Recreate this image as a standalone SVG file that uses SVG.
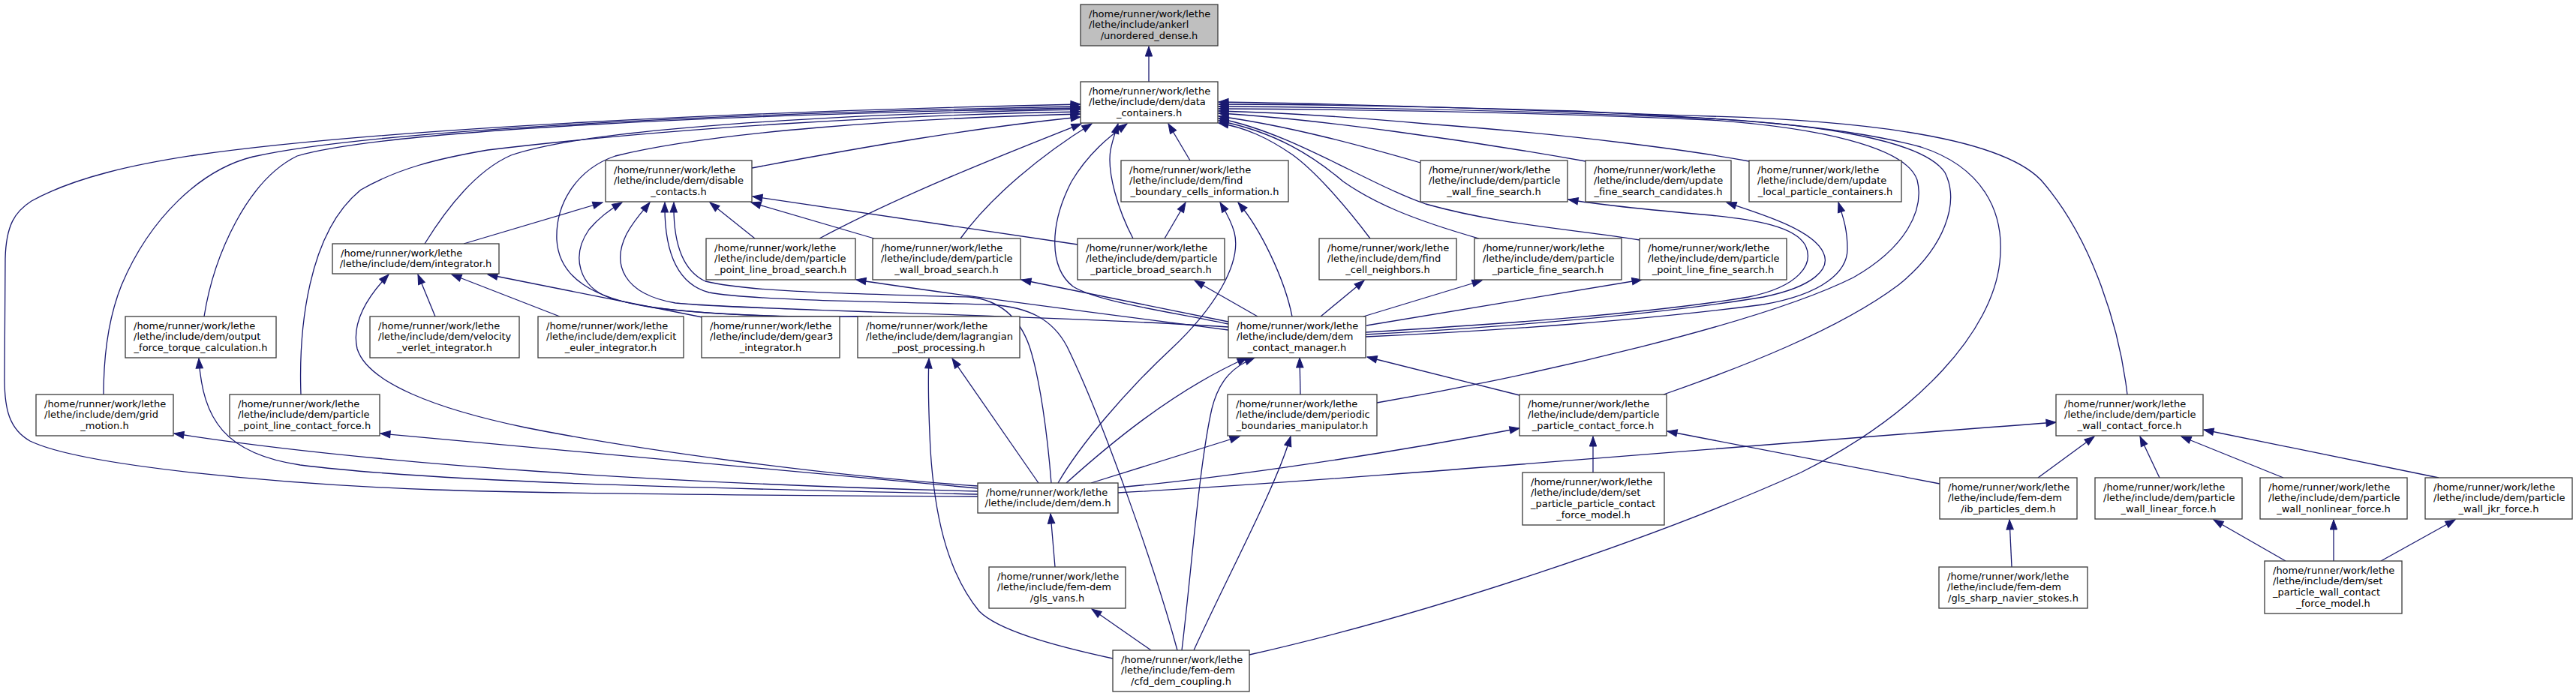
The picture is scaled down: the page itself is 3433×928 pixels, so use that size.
<svg xmlns="http://www.w3.org/2000/svg" width="3433" height="928" viewBox="0 0 3433 928">
<style>
.nd rect{fill:#fff;stroke:#3a3a3a;stroke-width:1.3}
.nd text{font-family:"DejaVu Sans","Liberation Sans",sans-serif;font-size:13px;fill:#000}
.nd .c{text-anchor:middle}
#n0 rect{fill:#bfbfbf}
.e path{fill:none;stroke:#191970;stroke-width:1.3;marker-end:url(#ah)}
</style>
<defs>
<marker id="ah" markerUnits="userSpaceOnUse" markerWidth="14" markerHeight="10" refX="13" refY="4.7" orient="auto" overflow="visible"><path d="M0,0 L13,4.7 L0,9.4 z" fill="#191970" stroke="#191970" stroke-width="1"/></marker>
</defs>
<rect width="3433" height="928" fill="#fff"/>
<g id="edges" class="e">
<path d="M1531,109 L1531,62"/>
<path d="M1303,662 C1100,661 760,659 580,653 C380,646 110,622 40,588 C12,572 6,545 6,505 L7,345 C8,300 20,282 42,268 C100,236 180,219 259,207 C500,172 1000,148 1440,139"/>
<path d="M138,526 C138,470 146,420 162,380 C200,290 268,226 337,209 C500,172 1000,150 1440,142"/>
<path d="M272,422 C285,340 330,240 396,208 C520,172 1000,152 1440,144"/>
<path d="M566,325 C600,270 640,225 681,207 C800,166 1200,150 1440,146"/>
<path d="M401,526 C398,440 410,310 481,253 C530,225 580,212 650,200 C900,170 1200,153 1440,149"/>
<path d="M1150,422 C1050,423 950,420 870,410 C790,398 745,370 742,320 C740,270 770,225 820,208 C950,176 1200,158 1440,152"/>
<path d="M1002,224 C1150,196 1300,170 1440,156"/>
<path d="M1092,318 C1200,260 1340,205 1441,165"/>
<path d="M1280,318 C1320,262 1390,205 1455,165"/>
<path d="M1510,318 C1490,280 1475,230 1480,200 C1483,185 1487,175 1490,165"/>
<path d="M1637,432 C1550,414 1462,402 1430,382 C1398,357 1398,300 1428,242 C1450,205 1478,182 1502,165"/>
<path d="M1586,214 L1557,165"/>
<path d="M1826,318 C1790,270 1750,226 1722,206 C1690,184 1660,170 1624,164"/>
<path d="M1971,318 C1880,292 1830,270 1790,242 C1750,208 1700,176 1624,161"/>
<path d="M2185,320 C2100,306 2000,300 1900,272 C1820,244 1720,176 1624,158"/>
<path d="M1893,217 C1820,196 1720,168 1624,155"/>
<path d="M2113,215 C1950,186 1750,158 1624,151"/>
<path d="M2331,215 C2250,200 2100,180 1900,165 C1800,156 1700,150 1624,148"/>
<path d="M1835,537 C2050,500 2350,430 2470,370 C2540,330 2565,280 2555,240 C2540,195 2420,170 2280,160 C2050,150 1800,146 1624,145"/>
<path d="M2217,526 C2320,490 2450,440 2530,380 C2592,330 2612,270 2592,230 C2562,186 2420,166 2280,158 C2050,148 1800,143 1624,142"/>
<path d="M1665,873 C1900,820 2200,720 2400,630 C2560,550 2655,440 2665,350 C2673,280 2640,222 2560,196 C2450,166 2300,158 2100,148 C1900,142 1750,139 1624,139"/>
<path d="M2835,526 C2825,440 2790,320 2720,240 C2660,178 2450,160 2280,155 C2000,146 1800,138 1624,136"/>
<path d="M1820,449 C2000,441 2200,426 2350,406 C2430,392 2462,362 2462,332 C2462,305 2456,289 2450,270"/>
<path d="M1820,446 C2000,436 2200,421 2350,396 C2418,382 2440,358 2430,337 C2417,307 2350,286 2301,270"/>
<path d="M1820,443 C2000,432 2200,418 2330,396 C2398,382 2418,352 2406,327 C2392,302 2340,293 2280,287 C2200,280 2130,273 2090,266"/>
<path d="M1821,434 L2188,373"/>
<path d="M1817,422 L1975,374"/>
<path d="M1760,422 L1818,374"/>
<path d="M1722,422 C1712,372 1680,305 1650,270"/>
<path d="M1676,422 L1592,374"/>
<path d="M1637,429 L1361,373"/>
<path d="M1637,440 C1450,416 1250,390 1141,373"/>
<path d="M1637,436 C1400,420 1000,414 900,404 C830,392 815,352 835,312 C846,292 858,280 866,270"/>
<path d="M618,325 L803,270"/>
<path d="M1006,318 L946,270"/>
<path d="M1165,318 L1001,270"/>
<path d="M1436,326 L1003,262"/>
<path d="M1162,422 C1000,424 870,416 812,397 C772,382 760,342 785,306 C800,288 815,278 829,270"/>
<path d="M1401,644 C1396,580 1386,505 1372,462 C1358,422 1332,400 1292,396 C1150,392 1000,390 940,375 C908,360 897,320 898,270"/>
<path d="M1569,867 C1540,760 1470,560 1422,462 C1403,426 1372,410 1322,406 C1150,402 1000,400 945,390 C900,378 885,330 886,270"/>
<path d="M580,422 L557,366"/>
<path d="M746,422 L602,366"/>
<path d="M936,423 L650,366"/>
<path d="M1303,648 C1100,634 850,600 700,570 C580,545 490,510 476,465 C468,430 490,395 518,366"/>
<path d="M1303,655 C900,645 500,620 232,578"/>
<path d="M1303,651 C1000,625 700,595 507,578"/>
<path d="M1303,659 C1000,652 600,645 400,620 C300,605 270,560 265,478"/>
<path d="M1384,644 L1269,478"/>
<path d="M1410,644 C1440,592 1500,522 1560,466 C1620,410 1655,350 1645,310 C1640,292 1632,280 1626,270"/>
<path d="M1421,644 C1470,600 1560,522 1662,477"/>
<path d="M1454,644 L1652,582"/>
<path d="M1490,650 C1600,640 1800,614 2025,571"/>
<path d="M1490,657 C1800,640 2300,596 2740,563"/>
<path d="M1534,867 L1455,812"/>
<path d="M1483,878 C1400,860 1330,840 1305,815 C1260,760 1245,680 1240,600 C1237,540 1237,500 1238,478"/>
<path d="M1575,867 C1588,760 1598,620 1615,545 C1625,505 1645,488 1672,477"/>
<path d="M1591,867 C1640,760 1700,650 1720,582"/>
<path d="M1733,526 L1732,477"/>
<path d="M2025,527 L1822,476"/>
<path d="M2123,630 L2123,582"/>
<path d="M2585,645 L2222,575"/>
<path d="M2716,637 L2791,582"/>
<path d="M2878,637 L2852,582"/>
<path d="M3043,637 L2907,582"/>
<path d="M3250,637 L2937,573"/>
<path d="M3046,748 L2950,693"/>
<path d="M3110,748 L3110,693"/>
<path d="M3173,748 L3272,693"/>
<path d="M2681,756 L2678,693"/>
<path d="M1406,756 L1400,685"/>
<path d="M1552,318 L1580,270"/>
</g>
<g id="n0" class="nd"><rect x="1440" y="6" width="183" height="55"/><text x="1451" y="22.5">/home/runner/work/lethe</text><text x="1451" y="37.2">/lethe/include/ankerl</text><text class="c" x="1531.5" y="51.9">/unordered_dense.h</text></g>
<g id="n1" class="nd"><rect x="1440" y="109" width="183" height="55"/><text x="1451" y="125.5">/home/runner/work/lethe</text><text x="1451" y="140.2">/lethe/include/dem/data</text><text class="c" x="1531.5" y="154.9">_containers.h</text></g>
<g id="n2" class="nd"><rect x="807" y="214" width="195" height="55"/><text x="818" y="230.5">/home/runner/work/lethe</text><text x="818" y="245.2">/lethe/include/dem/disable</text><text class="c" x="904.5" y="259.9">_contacts.h</text></g>
<g id="n3" class="nd"><rect x="1494" y="214" width="223" height="55"/><text x="1505" y="230.5">/home/runner/work/lethe</text><text x="1505" y="245.2">/lethe/include/dem/find</text><text class="c" x="1605.5" y="259.9">_boundary_cells_information.h</text></g>
<g id="n4" class="nd"><rect x="1893" y="214" width="196" height="55"/><text x="1904" y="230.5">/home/runner/work/lethe</text><text x="1904" y="245.2">/lethe/include/dem/particle</text><text class="c" x="1991" y="259.9">_wall_fine_search.h</text></g>
<g id="n5" class="nd"><rect x="2113" y="214" width="194" height="55"/><text x="2124" y="230.5">/home/runner/work/lethe</text><text x="2124" y="245.2">/lethe/include/dem/update</text><text class="c" x="2210" y="259.9">_fine_search_candidates.h</text></g>
<g id="n6" class="nd"><rect x="2331" y="214" width="203" height="55"/><text x="2342" y="230.5">/home/runner/work/lethe</text><text x="2342" y="245.2">/lethe/include/dem/update</text><text class="c" x="2432.5" y="259.9">_local_particle_containers.h</text></g>
<g id="n7" class="nd"><rect x="443" y="325" width="222" height="40"/><text x="454" y="341.5">/home/runner/work/lethe</text><text class="c" x="554" y="356.2">/lethe/include/dem/integrator.h</text></g>
<g id="n8" class="nd"><rect x="941" y="318" width="199" height="55"/><text x="952" y="334.5">/home/runner/work/lethe</text><text x="952" y="349.2">/lethe/include/dem/particle</text><text class="c" x="1040.5" y="363.9">_point_line_broad_search.h</text></g>
<g id="n9" class="nd"><rect x="1163" y="318" width="197" height="55"/><text x="1174" y="334.5">/home/runner/work/lethe</text><text x="1174" y="349.2">/lethe/include/dem/particle</text><text class="c" x="1261.5" y="363.9">_wall_broad_search.h</text></g>
<g id="n10" class="nd"><rect x="1436" y="318" width="196" height="55"/><text x="1447" y="334.5">/home/runner/work/lethe</text><text x="1447" y="349.2">/lethe/include/dem/particle</text><text class="c" x="1534" y="363.9">_particle_broad_search.h</text></g>
<g id="n11" class="nd"><rect x="1758" y="318" width="183" height="55"/><text x="1769" y="334.5">/home/runner/work/lethe</text><text x="1769" y="349.2">/lethe/include/dem/find</text><text class="c" x="1849.5" y="363.9">_cell_neighbors.h</text></g>
<g id="n12" class="nd"><rect x="1965" y="318" width="196" height="55"/><text x="1976" y="334.5">/home/runner/work/lethe</text><text x="1976" y="349.2">/lethe/include/dem/particle</text><text class="c" x="2063" y="363.9">_particle_fine_search.h</text></g>
<g id="n13" class="nd"><rect x="2185" y="318" width="196" height="55"/><text x="2196" y="334.5">/home/runner/work/lethe</text><text x="2196" y="349.2">/lethe/include/dem/particle</text><text class="c" x="2283" y="363.9">_point_line_fine_search.h</text></g>
<g id="n14" class="nd"><rect x="167" y="422" width="201" height="55"/><text x="178" y="438.5">/home/runner/work/lethe</text><text x="178" y="453.2">/lethe/include/dem/output</text><text class="c" x="267.5" y="467.9">_force_torque_calculation.h</text></g>
<g id="n15" class="nd"><rect x="493" y="422" width="199" height="55"/><text x="504" y="438.5">/home/runner/work/lethe</text><text x="504" y="453.2">/lethe/include/dem/velocity</text><text class="c" x="592.5" y="467.9">_verlet_integrator.h</text></g>
<g id="n16" class="nd"><rect x="717" y="422" width="194" height="55"/><text x="728" y="438.5">/home/runner/work/lethe</text><text x="728" y="453.2">/lethe/include/dem/explicit</text><text class="c" x="814" y="467.9">_euler_integrator.h</text></g>
<g id="n17" class="nd"><rect x="935" y="422" width="184" height="55"/><text x="946" y="438.5">/home/runner/work/lethe</text><text x="946" y="453.2">/lethe/include/dem/gear3</text><text class="c" x="1027" y="467.9">_integrator.h</text></g>
<g id="n18" class="nd"><rect x="1143" y="422" width="216" height="55"/><text x="1154" y="438.5">/home/runner/work/lethe</text><text x="1154" y="453.2">/lethe/include/dem/lagrangian</text><text class="c" x="1251" y="467.9">_post_processing.h</text></g>
<g id="n19" class="nd"><rect x="1637" y="422" width="183" height="55"/><text x="1648" y="438.5">/home/runner/work/lethe</text><text x="1648" y="453.2">/lethe/include/dem/dem</text><text class="c" x="1728.5" y="467.9">_contact_manager.h</text></g>
<g id="n20" class="nd"><rect x="48" y="526" width="183" height="55"/><text x="59" y="542.5">/home/runner/work/lethe</text><text x="59" y="557.2">/lethe/include/dem/grid</text><text class="c" x="139.5" y="571.9">_motion.h</text></g>
<g id="n21" class="nd"><rect x="306" y="526" width="200" height="55"/><text x="317" y="542.5">/home/runner/work/lethe</text><text x="317" y="557.2">/lethe/include/dem/particle</text><text class="c" x="406" y="571.9">_point_line_contact_force.h</text></g>
<g id="n22" class="nd"><rect x="1636" y="526" width="199" height="55"/><text x="1647" y="542.5">/home/runner/work/lethe</text><text x="1647" y="557.2">/lethe/include/dem/periodic</text><text class="c" x="1735.5" y="571.9">_boundaries_manipulator.h</text></g>
<g id="n23" class="nd"><rect x="2025" y="526" width="196" height="55"/><text x="2036" y="542.5">/home/runner/work/lethe</text><text x="2036" y="557.2">/lethe/include/dem/particle</text><text class="c" x="2123" y="571.9">_particle_contact_force.h</text></g>
<g id="n24" class="nd"><rect x="2740" y="526" width="196" height="55"/><text x="2751" y="542.5">/home/runner/work/lethe</text><text x="2751" y="557.2">/lethe/include/dem/particle</text><text class="c" x="2838" y="571.9">_wall_contact_force.h</text></g>
<g id="n25" class="nd"><rect x="1303" y="644" width="187" height="40"/><text x="1314" y="660.5">/home/runner/work/lethe</text><text class="c" x="1396.5" y="675.2">/lethe/include/dem/dem.h</text></g>
<g id="n26" class="nd"><rect x="2029" y="630" width="189" height="70"/><text x="2040" y="646.5">/home/runner/work/lethe</text><text x="2040" y="661.2">/lethe/include/dem/set</text><text x="2040" y="675.9">_particle_particle_contact</text><text class="c" x="2123.5" y="690.6">_force_model.h</text></g>
<g id="n27" class="nd"><rect x="2585" y="637" width="183" height="55"/><text x="2596" y="653.5">/home/runner/work/lethe</text><text x="2596" y="668.2">/lethe/include/fem-dem</text><text class="c" x="2676.5" y="682.9">/ib_particles_dem.h</text></g>
<g id="n28" class="nd"><rect x="2792" y="637" width="196" height="55"/><text x="2803" y="653.5">/home/runner/work/lethe</text><text x="2803" y="668.2">/lethe/include/dem/particle</text><text class="c" x="2890" y="682.9">_wall_linear_force.h</text></g>
<g id="n29" class="nd"><rect x="3012" y="637" width="196" height="55"/><text x="3023" y="653.5">/home/runner/work/lethe</text><text x="3023" y="668.2">/lethe/include/dem/particle</text><text class="c" x="3110" y="682.9">_wall_nonlinear_force.h</text></g>
<g id="n30" class="nd"><rect x="3232" y="637" width="196" height="55"/><text x="3243" y="653.5">/home/runner/work/lethe</text><text x="3243" y="668.2">/lethe/include/dem/particle</text><text class="c" x="3330" y="682.9">_wall_jkr_force.h</text></g>
<g id="n31" class="nd"><rect x="1318" y="756" width="182" height="55"/><text x="1329" y="772.5">/home/runner/work/lethe</text><text x="1329" y="787.2">/lethe/include/fem-dem</text><text class="c" x="1409" y="801.9">/gls_vans.h</text></g>
<g id="n32" class="nd"><rect x="1483" y="867" width="182" height="55"/><text x="1494" y="883.5">/home/runner/work/lethe</text><text x="1494" y="898.2">/lethe/include/fem-dem</text><text class="c" x="1574" y="912.9">/cfd_dem_coupling.h</text></g>
<g id="n33" class="nd"><rect x="2584" y="756" width="198" height="55"/><text x="2595" y="772.5">/home/runner/work/lethe</text><text x="2595" y="787.2">/lethe/include/fem-dem</text><text class="c" x="2683" y="801.9">/gls_sharp_navier_stokes.h</text></g>
<g id="n34" class="nd"><rect x="3018" y="748" width="183" height="70"/><text x="3029" y="764.5">/home/runner/work/lethe</text><text x="3029" y="779.2">/lethe/include/dem/set</text><text x="3029" y="793.9">_particle_wall_contact</text><text class="c" x="3109.5" y="808.6">_force_model.h</text></g>
</svg>
